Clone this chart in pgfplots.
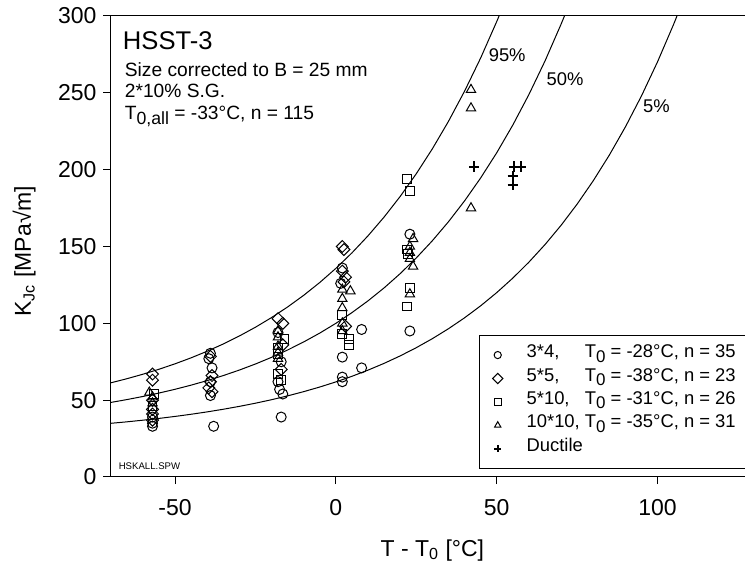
\documentclass[border=0pt]{standalone}
\usepackage{graphicx}
\usepackage{pgfplots}
\pgfplotsset{compat=1.18}
\usepackage{fontspec}
\setmainfont{Liberation Sans}
\newcommand{\bsub}[1]{\raisebox{-0.45ex}{\scalebox{0.92}{#1}}}
\newlength\lw
\begin{document}
\settowidth{\lw}{\fontsize{9.2}{11}\selectfont 10*10,\ }%
\begin{tikzpicture}
\begin{axis}[
  scale only axis, width=321.7pt, height=230.5pt,
  xmin=-70, xmax=130, ymin=0, ymax=300,
  xtick={-50,0,50,100}, ytick={0,50,100,150,200,250,300},
  xtick pos=bottom, ytick pos=left, tick align=outside,
  major tick length=3.6pt, minor tick num=0,
  tick style={black, line width=0.5pt},
  axis line style={black, line width=0.5pt},
  /pgf/number format/assume math mode=true,
  tick label style={font=\fontsize{11.5}{13}\selectfont},
  xticklabel style={yshift=-4pt},
  every axis x label/.style={at={(axis description cs:0.5,-0.1714)}, anchor=base},
  every axis y label/.style={at={(axis description cs:-0.1239,0.49)}, rotate=90, anchor=base},
  label style={font=\fontsize{11.5}{13}\selectfont},
  xlabel={T - T\textsubscript{0} [°C]},
  ylabel={K\textsubscript{Jc} [MPa√m]},
  legend style={at={(0.5725,0.3083)}, anchor=north west, draw=black, line width=0.5pt,
    fill=white, font=\fontsize{9.2}{11}\selectfont, inner xsep=0pt, inner ysep=4pt,
    row sep=0pt, column sep=0pt,
    nodes={inner sep=0pt, text height=7.2pt, text depth=4.5pt}},
  legend cell align=left,
  legend image code/.code={\path (-8.85pt,0) (14.2pt,0); \draw[#1, mark size=1.8pt] plot coordinates {(0pt,0pt)};},
]
\addplot[only marks, mark=o, mark size=2.5pt, mark options={line width=0.5pt, black}] coordinates {
(-57,39) (-57,35) (-57,33)
(-39,80.5) (-39.5,77) (-38.5,71) (-39,62) (-39,53) (-38,33)
(-18,94) (-17,75) (-18,62) (-17.5,57) (-16.5,54) (-17,39)
(2,136) (1.5,126) (2,78) (2,65) (2,62) (8,96) (8,71)
(23,158) (23,95)};
\addlegendentry{\makebox[113pt][l]{\makebox[\lw][l]{3*4,}T\bsub{0} = -28°C, n = 35}}
\addplot[only marks, mark=square, mark size=2.1pt, mark options={rotate=45, line width=0.5pt, black}] coordinates {
(-57,67) (-57,63) (-57,50) (-57,44) (-57,41) (-57,37)
(-39,78.5) (-38.5,66) (-39,62) (-39.5,58) (-38.5,55.5)
(-18,103) (-16.5,100) (-16.5,86) (-17,70)
(2,150) (2.5,148) (2,134) (3,130) (2.5,127) (3,98)};
\addlegendentry{\makebox[\lw][l]{5*5,}T\bsub{0} = -38°C, n = 23}
\addplot[only marks, mark=square, mark size=2.2pt, mark options={line width=0.5pt, black}] coordinates {
(-56.5,54) (-57,46)
(-16,90) (-18,84) (-18,80) (-18,67) (-17,63)
(2,105.5) (2,93) (4,90) (4,86)
(22,194) (23,186) (22,148) (22.5,145) (23,123) (22,111)};
\addlegendentry{\makebox[\lw][l]{5*10,}T\bsub{0} = -31°C, n = 26}
\addplot[only marks, mark=triangle, mark size=2.7pt, mark options={line width=0.5pt, black}] coordinates {
(-58,55) (-57,52) (-57,48)
(-18,95) (-18,91) (-18,85) (-18,81) (-18,77)
(2,122) (4.5,121) (2,116) (2,110) (2,100) (2,95)
(24,155) (23,150) (23,146) (23,142) (24,137) (23,119)
(42,252) (42,240) (42,175)};
\addlegendentry{\makebox[\lw][l]{10*10,}T\bsub{0} = -35°C, n = 31}
\addplot[only marks, mark=+, mark size=2.6pt, mark options={line width=1pt, black}] coordinates {
(43,202) (55.5,202) (57.5,202) (55,196) (55,190)};
\addlegendentry{Ductile}
% 95 %
\addplot[forget plot, black, line width=0.5pt, no markers] coordinates {
(-70,61.26) (-65,63.93) (-60,66.87) (-55,70.10) (-50,73.65) (-45,77.55) (-40,81.85) (-35,86.57) (-30,91.76) (-25,97.47) (-20,103.75) (-15,110.65) (-10,118.24) (-5,126.59) (0,135.77) (5,145.87) (10,156.97) (15,169.18) (20,182.60) (25,197.37) (30,213.60) (35,231.44) (40,251.08) (45,272.66) (50,296.40) (50.72,300)};
% 50 %
\addplot[forget plot, black, line width=0.5pt, no markers] coordinates {
(-70,48.51) (-65,50.36) (-60,52.39) (-55,54.62) (-50,57.07) (-45,59.77) (-40,62.74) (-35,66.00) (-30,69.59) (-25,73.53) (-20,77.87) (-15,82.64) (-10,87.89) (-5,93.66) (0,100) (5,106.98) (10,114.65) (15,123.08) (20,132.36) (25,142.56) (30,153.78) (35,166.11) (40,179.68) (45,194.60) (50,211.00) (55,229.04) (60,248.87) (65,270.69) (70,294.67) (71.05,300)};
% 5 %
\addplot[forget plot, black, line width=0.5pt, no markers] coordinates {
(-70,34.93) (-65,35.89) (-60,36.96) (-55,38.12) (-50,39.41) (-45,40.82) (-40,42.37) (-35,44.08) (-30,45.96) (-25,48.02) (-20,50.29) (-15,52.79) (-10,55.54) (-5,58.56) (0,61.88) (5,65.53) (10,69.55) (15,73.96) (20,78.82) (25,84.16) (30,90.03) (35,96.49) (40,103.59) (45,111.40) (50,119.99) (55,129.43) (60,139.81) (65,151.23) (70,163.79) (75,177.60) (80,192.78) (85,209.48) (90,227.84) (95,248.03) (100,270.24) (105,294.65) (106.03,300)};
\node[anchor=base west, inner sep=0pt, font=\fontsize{12.8}{14}\selectfont] at (axis cs:-66.3,278.2) {HSST-3};
\node[anchor=base west, inner sep=0pt, font=\fontsize{9.6}{11}\selectfont] at (axis cs:-65.7,260.4) {Size corrected to B = 25 mm};
\node[anchor=base west, inner sep=0pt, font=\fontsize{9.6}{11}\selectfont] at (axis cs:-65.7,246.7) {2*10\% S.G.};
\node[anchor=base west, inner sep=0pt, font=\fontsize{9.6}{11}\selectfont] at (axis cs:-65.7,232.6) {T\bsub{0,all} = -33°C, n = 115};
\node[anchor=base west, inner sep=0pt, font=\fontsize{9.2}{11}\selectfont] at (axis cs:47.4,270.6) {95\%};
\node[anchor=base west, inner sep=0pt, font=\fontsize{9.2}{11}\selectfont] at (axis cs:65.4,254.7) {50\%};
\node[anchor=base west, inner sep=0pt, font=\fontsize{9.2}{11}\selectfont] at (axis cs:95.4,237.3) {5\%};
\node[anchor=base west, inner sep=0pt, font=\fontsize{4.8}{6}\selectfont] at (axis cs:-67.6,4.6) {HSKALL.SPW};
\end{axis}
\pgfresetboundingbox
\path[use as bounding box] ([xshift=-55.35pt,yshift=-44pt]current axis.south west) rectangle ([xshift=317.15pt,yshift=238.5pt]current axis.south west);
\end{tikzpicture}
\end{document}
